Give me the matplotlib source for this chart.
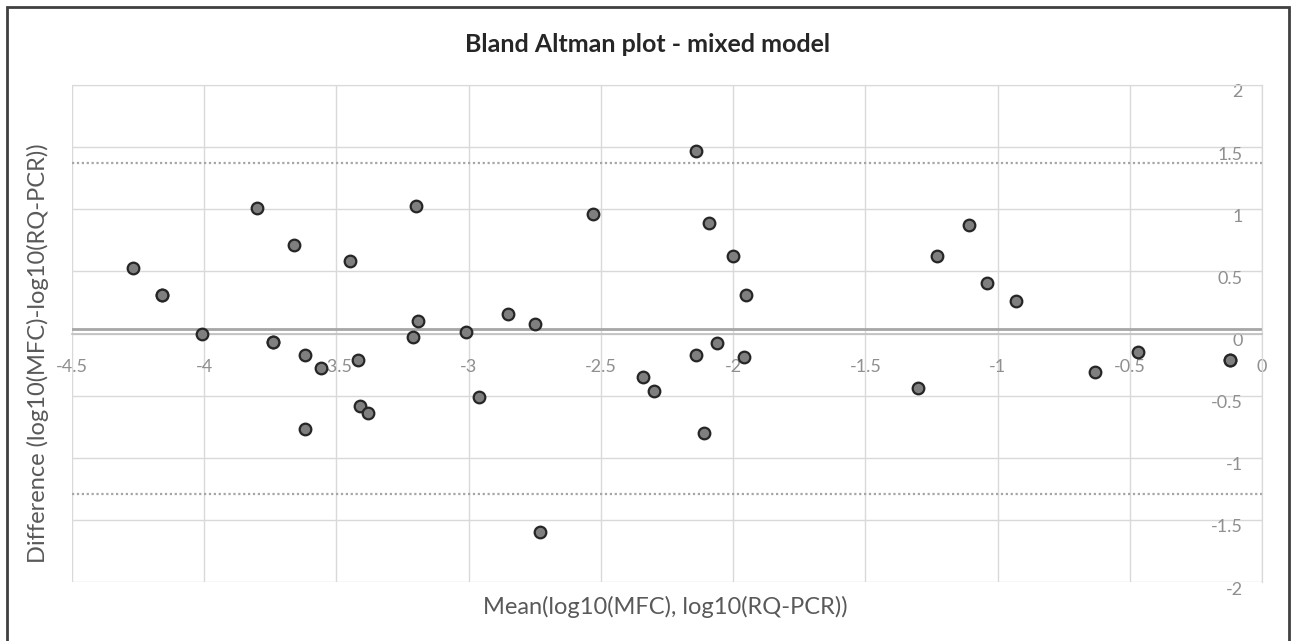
import matplotlib.pyplot as plt
from matplotlib.patches import Rectangle
from matplotlib.transforms import ScaledTranslation

# Mean of the two methods (x) and their difference (y)
mean_vals = [-4.27, -4.16, -4.16, -4.01, -3.80, -3.74, -3.74, -3.66, -3.62, -3.62,
             -3.56, -3.45, -3.42, -3.41, -3.38, -3.21, -3.20, -3.19, -3.01, -2.96,
             -2.85, -2.75, -2.73, -2.53, -2.34, -2.30, -2.14, -2.14, -2.11, -2.09,
             -2.06, -2.00, -1.96, -1.95, -1.30, -1.23, -1.11, -1.04, -0.93, -0.63,
             -0.47, -0.12, -0.12]
diff_vals = [0.53, 0.31, 0.31, 0.00, 1.01, -0.07, -0.07, 0.71, -0.17, -0.77,
             -0.28, 0.58, -0.21, -0.58, -0.64, -0.03, 1.03, 0.10, 0.01, -0.51,
             0.16, 0.08, -1.60, 0.96, -0.35, -0.46, 1.47, -0.17, -0.80, 0.89,
             -0.08, 0.62, -0.19, 0.31, -0.44, 0.62, 0.87, 0.41, 0.26, -0.31,
             -0.15, -0.21, -0.21]

mean_diff = 0.035
upper_loa = 1.37
lower_loa = -1.29

x_ticks = [-4.5, -4, -3.5, -3, -2.5, -2, -1.5, -1, -0.5, 0]
y_ticks = [-2, -1.5, -1, -0.5, 0, 0.5, 1, 1.5, 2]

plt.rcParams['font.family'] = ['Lato', 'DejaVu Sans']

fig = plt.figure(figsize=(12.96, 6.41), dpi=100)
ax = fig.add_axes([0.0556, 0.092, 0.9182, 0.7754])

ax.set_xlim(-4.5, 0)
ax.set_ylim(-2, 2)
ax.set_xticks(x_ticks)
ax.set_xticklabels([f"{t:g}" for t in x_ticks])
ax.set_yticks(y_ticks)
ax.set_yticklabels([f"{t:g}" for t in y_ticks])

ax.grid(True, color="#d9d9d9", linewidth=1)
ax.set_axisbelow(True)

# axes cross at zero like in Excel
ax.spines['bottom'].set_position(('data', 0))
ax.spines['left'].set_position(('data', 0))
for side in ['top', 'right', 'left']:
    ax.spines[side].set_color("#d9d9d9")
ax.spines['bottom'].set_color("#bfbfbf")
ax.spines['bottom'].set_linewidth(1.2)

ax.tick_params(axis='x', length=0, pad=18, labelsize=13, labelcolor="#8f8f8f")
ax.tick_params(axis='y', length=0, pad=14, labelsize=13, labelcolor="#8f8f8f")
# y labels sit a little below their gridline
for lab in ax.get_yticklabels():
    lab.set_transform(lab.get_transform() + ScaledTranslation(0, -0.06, fig.dpi_scale_trans))

# limits of agreement and mean difference
ax.axhline(mean_diff, color="#a6a6a6", linewidth=2, zorder=2)
ax.axhline(upper_loa, color="#a6a6a6", linewidth=1.6, linestyle=(0, (1, 1.2)), zorder=2)
ax.axhline(lower_loa, color="#a6a6a6", linewidth=1.6, linestyle=(0, (1, 1.2)), zorder=2)

ax.scatter(mean_vals, diff_vals, s=70, facecolor="#7f7f7f", edgecolor="#262626",
           linewidth=1.6, zorder=3, clip_on=False)

fig.text(0.5, 0.931, "Bland Altman plot - mixed model", ha="center", va="center",
         fontsize=18, fontweight="bold", color="#262626")
fig.text(0.513, 0.053, "Mean(log10(MFC), log10(RQ-PCR))", ha="center", va="center",
         fontsize=17, color="#595959")
fig.text(0.029, 0.449, "Difference (log10(MFC)-log10(RQ-PCR))", ha="center", va="center",
         rotation=90, fontsize=17, color="#595959")

# outer chart border
fig.patches.append(Rectangle((7 / 1296, -0.05), 1282 / 1296, 1.05 - 7 / 641,
                             transform=fig.transFigure, fill=False,
                             edgecolor="#404040", linewidth=2))

fig.savefig("out.png", dpi=100)
